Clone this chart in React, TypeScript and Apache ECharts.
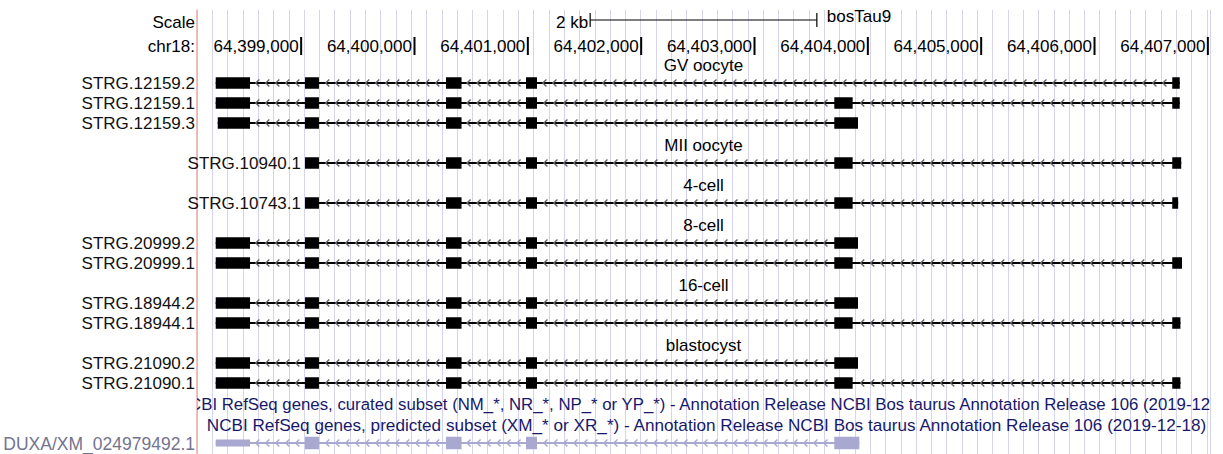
import React, { useEffect, useRef } from 'react';
import * as echarts from 'echarts';

const FONT = "'Liberation Sans', Arial, Helvetica, sans-serif";
const FONT_SIZE = 17;

// genomic window shown (chr18, bosTau9)
const VIEW_START = 64398081;
const VIEW_END = 64407019;
const GUIDE_UNITS = 66.21; // number of blue guideline intervals across the window

// ruler
const rulerTicks = [64399000, 64400000, 64401000, 64402000, 64403000, 64404000, 64405000, 64406000, 64407000];
const scaleBar = [64401550, 64403550];
const scaleBarLabel = '2 kb';
const assemblyName = 'bosTau9';
const chromName = 'chr18:';

// row layout (row units, one row = 20 px)
const SCALE_ROW = -3.05;
const RULER_ROW = -1.85;

// sample tracks
const sampleTracks = ['GV oocyte', 'MII oocyte', '4-cell', '8-cell', '16-cell', 'blastocyst'];
const sampleTrackRows = [-1, 3, 5, 7, 10, 13];

// transcripts
const transcriptNames = [
  'STRG.12159.2', 'STRG.12159.1', 'STRG.12159.3',
  'STRG.10940.1',
  'STRG.10743.1',
  'STRG.20999.2', 'STRG.20999.1',
  'STRG.18944.2', 'STRG.18944.1',
  'STRG.21090.2', 'STRG.21090.1',
];
const transcriptRows = [0, 1, 2, 4, 6, 8, 9, 11, 12, 14, 15];
const labelInline = [false, false, false, true, true, false, false, false, false, false, false];

const exons12159_2 = [[64398246, 64398549], [64399034, 64399157], [64400278, 64400415], [64400984, 64401081], [64406686, 64406752]];
const exons12159_1 = [[64398246, 64398549], [64399034, 64399157], [64400278, 64400415], [64400984, 64401081], [64403704, 64403866], [64406686, 64406752]];
const exons12159_3 = [[64398264, 64398549], [64399034, 64399157], [64400278, 64400415], [64400984, 64401081], [64403704, 64403913]];
const exons10940_1 = [[64399034, 64399157], [64400278, 64400415], [64400984, 64401081], [64403704, 64403866], [64406686, 64406765]];
const exons10743_1 = [[64399034, 64399157], [64400278, 64400415], [64400984, 64401081], [64403704, 64403866], [64406686, 64406738]];
const exons20999_2 = [[64398246, 64398549], [64399034, 64399157], [64400278, 64400415], [64400984, 64401081], [64403704, 64403913]];
const exons20999_1 = [[64398246, 64398549], [64399034, 64399157], [64400278, 64400415], [64400984, 64401081], [64403704, 64403866], [64406686, 64406772]];
const exons18944_2 = [[64398246, 64398549], [64399034, 64399157], [64400278, 64400415], [64400984, 64401081], [64403704, 64403913]];
const exons18944_1 = [[64398246, 64398549], [64399034, 64399157], [64400278, 64400415], [64400984, 64401081], [64403704, 64403866], [64406686, 64406758]];
const exons21090_2 = [[64398246, 64398549], [64399034, 64399157], [64400278, 64400415], [64400984, 64401081], [64403704, 64403913]];
const exons21090_1 = [[64398246, 64398549], [64399034, 64399157], [64400278, 64400415], [64400984, 64401081], [64403704, 64403866], [64406686, 64406758]];
const transcriptExons = [
  exons12159_2, exons12159_1, exons12159_3, exons10940_1, exons10743_1,
  exons20999_2, exons20999_1, exons18944_2, exons18944_1, exons21090_2, exons21090_1,
];

// NCBI RefSeq tracks
const refseqTitles = [
  'NCBI RefSeq genes, curated subset (NM_*, NR_*, NP_* or YP_*) - Annotation Release NCBI Bos taurus Annotation Release 106 (2019-12-18)',
  'NCBI RefSeq genes, predicted subset (XM_* or XR_*) - Annotation Release NCBI Bos taurus Annotation Release 106 (2019-12-18)',
];
const refseqTitleRows = [16, 17];
const refseqTitleSizes = [16.8, 17.15];
const refseqTitleShift = [5, 3];
const duxaName = 'DUXA/XM_024979492.1';
const duxaRow = 18;
const duxaExons = [[64398246, 64398549], [64399034, 64399157], [64400278, 64400415], [64400984, 64401081], [64403704, 64403925]];
const duxaCoding = [false, true, true, true, true];

const BLACK = '#000000';
const ARROW_GREY = '#666666';
const DUXA_COLOR = '#a8a8d0';
const NAVY = '#18186a';
const GUIDE_COLOR = '#d4d4f0';
const RED_LINE = '#eeaaaa';
const ARROW_SPACING = 10;

const fmt = (v: number) => String(v).replace(/\B(?=(\d{3})+(?!\d))/g, ',');

function textEl(text: string, x: number, y: number, align: string, fill = BLACK, size = FONT_SIZE) {
  return {
    type: 'text',
    style: {
      text, x, y, fill, align, verticalAlign: 'middle',
      font: `${size}px ${FONT}`,
    },
  };
}

function structure(api: any, exons: number[][], row: number, color: string, arrowColor: string, coding: boolean[] | null) {
  const yc = api.coord([VIEW_START, row])[1];
  const children: any[] = [];
  const xs = api.coord([exons[0][0], row])[0];
  const xe = api.coord([exons[exons.length - 1][1], row])[0];
  children.push({ type: 'line', shape: { x1: xs, y1: yc, x2: xe, y2: yc }, style: { stroke: color, lineWidth: 1.8 } });
  for (let i = 0; i < exons.length - 1; i++) {
    const a = api.coord([exons[i][1], row])[0];
    const b = api.coord([exons[i + 1][0], row])[0];
    const gap = b - a;
    const n = Math.floor((gap - 4) / ARROW_SPACING);
    if (n < 1) continue;
    const first = a + (gap - (n - 1) * ARROW_SPACING) / 2;
    for (let k = 0; k < n; k++) {
      const x = first + k * ARROW_SPACING;
      children.push({
        type: 'polyline',
        shape: { points: [[x + 1.8, yc - 3.6], [x - 1.8, yc], [x + 1.8, yc + 3.6]] },
        style: { stroke: arrowColor, lineWidth: 1.4, fill: null },
      });
    }
  }
  exons.forEach((e, i) => {
    const a = api.coord([e[0], row])[0];
    const b = api.coord([e[1], row])[0];
    const h = coding ? (coding[i] ? 12.5 : 7) : 11.5;
    children.push({ type: 'rect', shape: { x: a, y: yc - h / 2, width: Math.max(b - a, 1), height: h }, style: { fill: color } });
  });
  return { type: 'group', children };
}

const CENTER = (VIEW_START + VIEW_END) / 2;

const option: any = {
  animation: false,
  backgroundColor: '#ffffff',
  grid: { left: 197, right: 13, top: 10, bottom: 0, containLabel: false },
  xAxis: [
    { type: 'value', min: VIEW_START, max: VIEW_END, show: false },
    {
      type: 'value', min: 0, max: GUIDE_UNITS, interval: 1, show: true,
      axisLine: { show: false }, axisTick: { show: false }, axisLabel: { show: false },
      splitLine: { show: true, lineStyle: { color: GUIDE_COLOR, width: 1 } },
    },
  ],
  yAxis: {
    type: 'value', inverse: true, min: -3.65, max: 18.55,
    axisLine: { show: true, onZero: false, lineStyle: { color: RED_LINE, width: 1.5 } },
    axisTick: { show: false }, axisLabel: { show: false }, splitLine: { show: false },
  },
  series: [
    {
      type: 'custom', name: 'ruler', clip: false, silent: true,
      data: rulerTicks.map((t) => [t, RULER_ROW]),
      encode: { x: 0, y: 1 },
      renderItem: (params: any, api: any) => {
        const [x, y] = api.coord([api.value(0), api.value(1)]);
        const children: any[] = [
          { type: 'line', shape: { x1: x, y1: y - 9, x2: x, y2: y + 9 }, style: { stroke: BLACK, lineWidth: 2 } },
          textEl(fmt(api.value(0)), x - 2.5, y + 0.5, 'right'),
        ];
        if (params.dataIndex === 0) {
          children.push(textEl(chromName, api.coord([VIEW_START, 0])[0] - 2, y + 0.5, 'right'));
        }
        return { type: 'group', children };
      },
    },
    {
      type: 'custom', name: 'scale', clip: false, silent: true,
      data: [[scaleBar[0], SCALE_ROW, scaleBar[1]]],
      encode: { x: 0, y: 1 },
      renderItem: (params: any, api: any) => {
        const [x1, y] = api.coord([api.value(0), api.value(1)]);
        const x2 = api.coord([api.value(2), api.value(1)])[0];
        const yl = y - 2;
        return {
          type: 'group',
          children: [
            { type: 'line', shape: { x1, y1: yl, x2, y2: yl }, style: { stroke: BLACK, lineWidth: 1.2 } },
            { type: 'line', shape: { x1, y1: yl - 7, x2: x1, y2: yl + 7 }, style: { stroke: BLACK, lineWidth: 1.2 } },
            { type: 'line', shape: { x1: x2, y1: yl - 7, x2, y2: yl + 7 }, style: { stroke: BLACK, lineWidth: 1.2 } },
            textEl(scaleBarLabel, x1 - 2, y, 'right'),
            textEl(assemblyName, x2 + 10, y - 6, 'left'),
            textEl('Scale', api.coord([VIEW_START, 0])[0] - 2, y, 'right'),
          ],
        };
      },
    },
    {
      type: 'custom', name: 'sample tracks', clip: true, silent: true,
      data: sampleTracks.map((s, i) => [CENTER, sampleTrackRows[i], i]),
      encode: { x: 0, y: 1 },
      renderItem: (params: any, api: any) => {
        const [x, y] = api.coord([api.value(0), api.value(1)]);
        return textEl(sampleTracks[api.value(2)], x, y + 2, 'center');
      },
    },
    {
      type: 'custom', name: 'transcripts', clip: false, silent: true,
      data: transcriptNames.map((n, i) => [transcriptExons[i][0][0], transcriptRows[i], i]),
      encode: { x: 0, y: 1 },
      renderItem: (params: any, api: any) => {
        const i = api.value(2);
        return structure(api, transcriptExons[i], transcriptRows[i], BLACK, ARROW_GREY, null);
      },
    },
    {
      type: 'custom', name: 'transcript labels', clip: false, silent: true,
      data: transcriptNames.map((n, i) => [transcriptExons[i][0][0], transcriptRows[i], i]),
      encode: { x: 0, y: 1 },
      renderItem: (params: any, api: any) => {
        const i = api.value(2);
        const [xs, y] = api.coord([api.value(0), api.value(1)]);
        const x = labelInline[i] ? xs - 4 : api.coord([VIEW_START, 0])[0] - 2;
        return textEl(transcriptNames[i], x, y + 0.5, 'right', '#111111');
      },
    },
    {
      type: 'custom', name: 'refseq titles', clip: true, silent: true,
      data: refseqTitles.map((t, i) => [CENTER, refseqTitleRows[i], i]),
      encode: { x: 0, y: 1 },
      renderItem: (params: any, api: any) => {
        const i = api.value(2);
        const [x, y] = api.coord([api.value(0), api.value(1)]);
        return textEl(refseqTitles[i], x + refseqTitleShift[i], y + 1.5, 'center', NAVY, refseqTitleSizes[i]);
      },
    },
    {
      type: 'custom', name: 'DUXA', clip: false, silent: true,
      data: [[duxaExons[0][0], duxaRow]],
      encode: { x: 0, y: 1 },
      renderItem: (params: any, api: any) => {
        const y = api.coord([VIEW_START, duxaRow])[1];
        const g = structure(api, duxaExons, duxaRow, DUXA_COLOR, DUXA_COLOR, duxaCoding);
        g.children.push(textEl(duxaName, api.coord([VIEW_START, 0])[0] - 2, y + 0.5, 'right', '#73738f', 17.5));
        return g;
      },
    },
  ],
};

export default function App() {
  const ref = useRef<HTMLDivElement>(null);
  useEffect(() => {
    const chart = echarts.init(ref.current as HTMLDivElement, null, { renderer: 'svg' });
    chart.setOption(option);
    return () => chart.dispose();
  }, []);
  return (
    <div
      ref={ref}
      style={{ position: 'absolute', left: 0, top: 0, width: 1223, height: 454, background: '#ffffff' }}
    />
  );
}
